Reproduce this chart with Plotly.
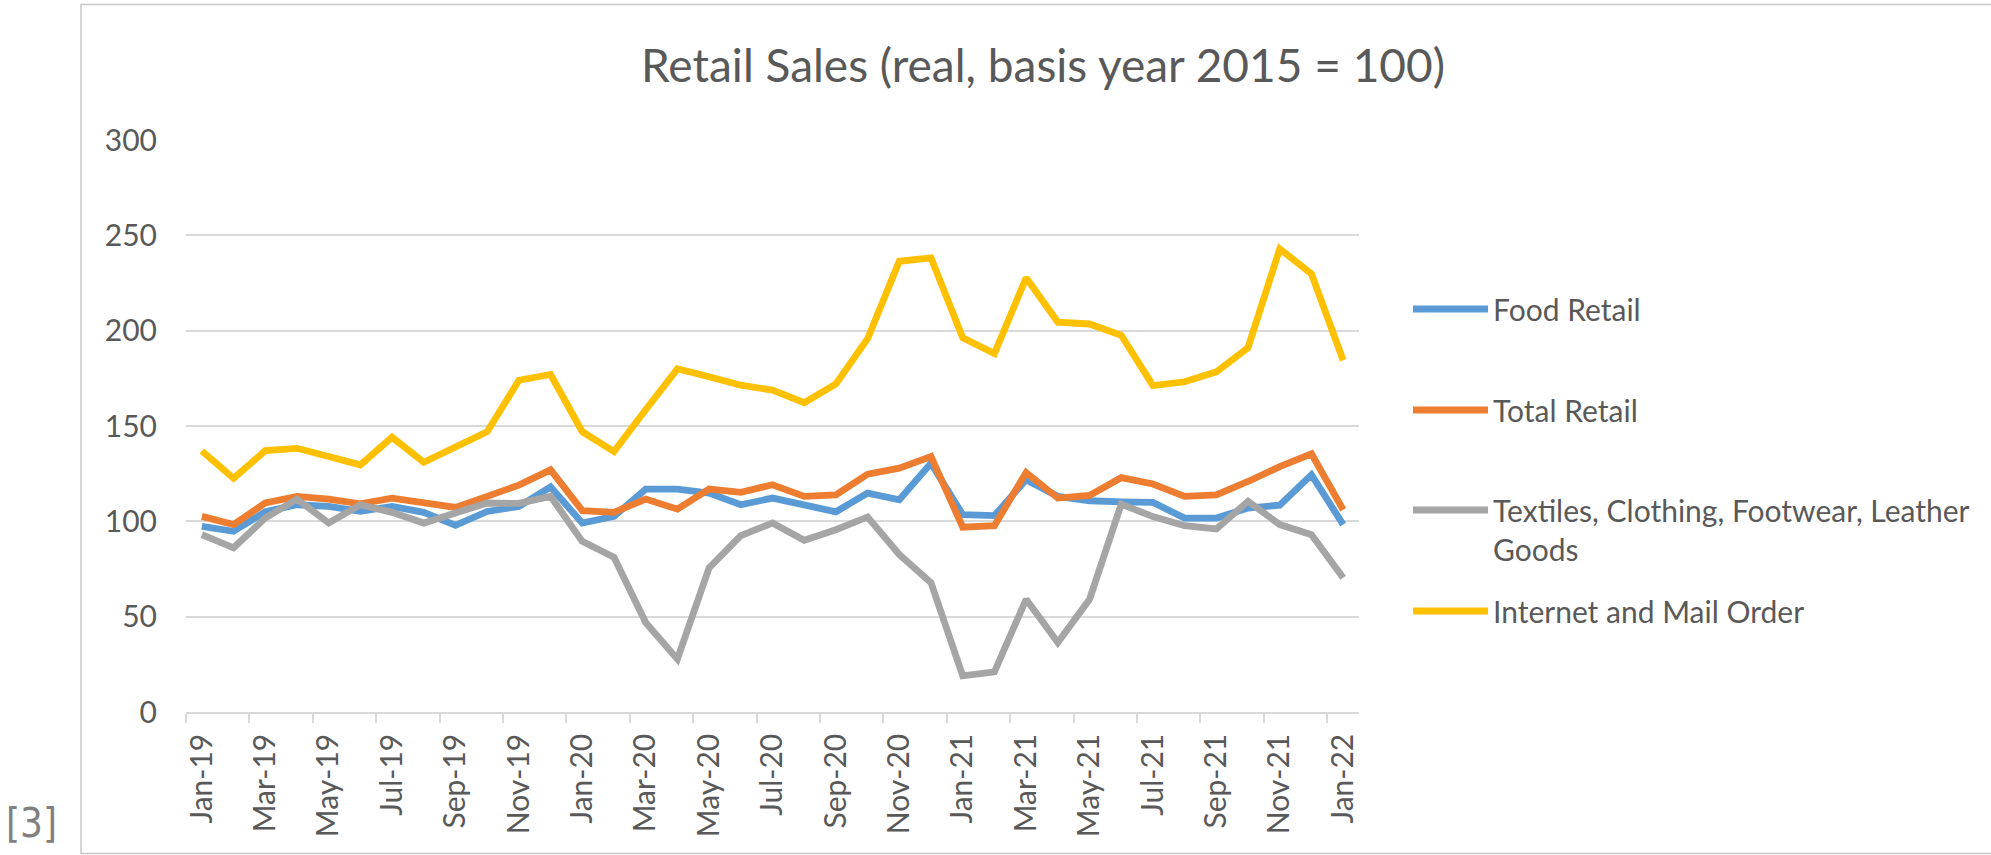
import plotly.graph_objects as go

months = ["Jan-19", "Feb-19", "Mar-19", "Apr-19", "May-19", "Jun-19", "Jul-19", "Aug-19", "Sep-19", "Oct-19", "Nov-19", "Dec-19",
          "Jan-20", "Feb-20", "Mar-20", "Apr-20", "May-20", "Jun-20", "Jul-20", "Aug-20", "Sep-20", "Oct-20", "Nov-20", "Dec-20",
          "Jan-21", "Feb-21", "Mar-21", "Apr-21", "May-21", "Jun-21", "Jul-21", "Aug-21", "Sep-21", "Oct-21", "Nov-21", "Dec-21",
          "Jan-22"]

food_retail = [97.4, 94.8, 105.0, 108.7, 107.8, 105.2, 107.8, 104.7, 97.9, 105.2, 107.8, 118.0,
               99.1, 102.6, 116.9, 116.9, 114.8, 108.7, 112.2, 108.7, 105.0, 114.8, 111.3, 130.5,
               103.5, 103.0, 121.8, 113.1, 110.8, 110.2, 109.9, 101.7, 101.7, 107.0, 108.5, 124.4,
               98.3]
total_retail = [102.6, 98.3, 109.6, 113.1, 111.7, 109.2, 112.2, 109.9, 107.3, 113.1, 119.0, 127.0,
                105.6, 104.7, 111.7, 106.4, 116.9, 115.2, 119.2, 113.1, 113.9, 124.7, 127.9, 134.0,
                96.9, 97.7, 125.6, 112.2, 113.6, 122.9, 119.6, 113.1, 113.9, 120.9, 128.7, 135.4,
                106.1]
textiles = [93.0, 86.1, 101.7, 111.7, 99.1, 108.7, 104.7, 99.1, 104.4, 109.6, 109.4, 113.1,
            89.5, 81.2, 46.9, 27.7, 75.6, 92.5, 99.1, 90.1, 95.6, 102.3, 82.6, 67.8,
            19.0, 21.1, 59.1, 36.4, 59.1, 109.0, 102.5, 97.7, 96.0, 110.5, 98.3, 93.0,
            70.4]
internet = [136.9, 122.6, 137.1, 138.3, 134.0, 129.6, 144.1, 131.0, 139.0, 147.0, 174.0, 177.0,
            147.0, 136.6, 158.5, 180.0, 175.8, 171.4, 168.8, 162.2, 172.0, 195.8, 236.4, 238.2,
            196.3, 188.0, 227.7, 204.5, 203.5, 197.6, 171.2, 173.2, 178.4, 191.1, 242.9, 229.8,
            184.5]

series_names = ["Food Retail", "Total Retail", "Textiles, Clothing, Footwear, Leather<br>Goods", "Internet and Mail Order"]
series_values = [food_retail, total_retail, textiles, internet]
series_colors = ["#5B9BD5", "#ED7D31", "#A5A5A5", "#FFC000"]
legend_ids = ["legend", "legend2", "legend3", "legend4"]

W, H = 1991, 855
L, R, T, B = 186, 1359, 140, 712.5

fig = go.Figure()
for name, vals, col, lg in zip(series_names, series_values, series_colors, legend_ids):
    fig.add_trace(go.Scatter(x=months, y=vals, name=name, mode="lines",
                             line=dict(color=col, width=6.8), legend=lg))

font_main = "Lato, 'Open Sans', sans-serif"
legend_line_y = [307, 408, 508, 609]

def legend_cfg(cy):
    return dict(xref="container", yref="container", x=1408 / W, y=1 - (cy - 24) / H,
                xanchor="left", yanchor="top", bgcolor="rgba(0,0,0,0)", itemwidth=75,
                valign="top", font=dict(family=font_main, size=30, color="#595959"))

layout_legends = {lg: legend_cfg(cy) for lg, cy in zip(legend_ids, legend_line_y)}

fig.update_layout(
    width=W, height=H,
    margin=dict(l=L, r=W - R, t=T, b=H - B, pad=0),
    paper_bgcolor="white", plot_bgcolor="white",
    showlegend=True,
    title=dict(text="Retail Sales (real, basis year 2015 = 100)", x=1043 / W, xanchor="center",
               xref="container", yref="container", y=1 - 66 / H, yanchor="middle",
               font=dict(family=font_main, size=46, color="#595959")),
    xaxis=dict(type="category", range=[-0.5, 36.5], tickmode="linear", tick0=0, dtick=2,
               tickson="boundaries", ticks="outside", ticklen=9, tickwidth=1.5, tickcolor="#d9d9d9",
               showline=True, linecolor="#d9d9d9", linewidth=1.5, showgrid=False, tickangle=-90,
               tickfont=dict(family=font_main, size=30, color="#595959"), ticklabelstandoff=8),
    yaxis=dict(range=[0, 300], tickmode="linear", tick0=0, dtick=50, showgrid=True,
               gridcolor="#d9d9d9", gridwidth=1.5, zeroline=False, showline=False, ticks="",
               ticklabelstandoff=28, tickfont=dict(family=font_main, size=30, color="#595959")),
    **layout_legends,
)

# chart frame
fig.add_shape(type="rect", xref="paper", yref="paper",
              x0=(81 - L) / (R - L), x1=(2010 - L) / (R - L),
              y0=(B - 854) / (B - T), y1=(B - 4.5) / (B - T),
              line=dict(color="#c8c8c8", width=1.5), fillcolor="rgba(0,0,0,0)", layer="below")

fig.add_annotation(text="[3]", xref="paper", yref="paper",
                   x=(31.5 - L) / (R - L), y=(B - 824) / (B - T), xanchor="center", yanchor="middle",
                   showarrow=False,
                   font=dict(family="'Liberation Sans Narrow', 'DejaVu Sans Condensed', sans-serif",
                             size=40, color="#808080"))

fig.write_html("out.html")
